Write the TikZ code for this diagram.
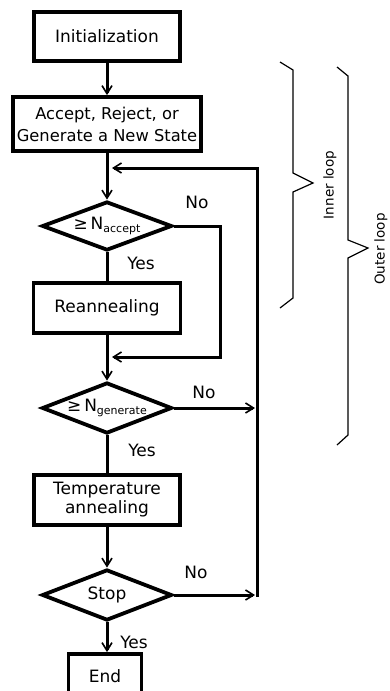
\documentclass[tikz,border=0pt]{standalone}
\usepackage{fontspec}
\setmainfont{DejaVu Sans}
\usetikzlibrary{shapes.geometric,arrows.meta}
\begin{document}
\begin{tikzpicture}[x=1pt,y=-1pt,
  box/.style={draw,line width=3.8pt,inner sep=0pt,align=center,font=\fontsize{17}{22}\selectfont},
  dec/.style={draw,diamond,line width=3.8pt,inner sep=0pt,aspect=2.5,font=\fontsize{17}{20}\selectfont},
  conn/.style={line width=3pt},
  arr/.style={conn,-{Straight Barb[length=8pt,width=10pt,line width=1.6pt]}},
  lab/.style={font=\fontsize{17}{18}\selectfont,inner sep=0pt},
  brace/.style={line width=1.2pt},
  blab/.style={font=\fontsize{13.5}{15}\selectfont,rotate=90,inner sep=0pt}]
\useasboundingbox (0,0) rectangle (390,691);
\clip (0,0) rectangle (390,691);

\node[box,minimum width=146pt,minimum height=49pt] (init) at (107,36.5) {Initialization};
\node[box,minimum width=188pt,minimum height=54pt,font=\fontsize{16.3}{22}\selectfont] (accept) at (107,124) {Accept, Reject, or\\Generate a New State};
\node[dec,minimum width=130pt,minimum height=49pt] (d1) at (107,226) {≥\,N\raisebox{-3pt}{\fontsize{11}{11}\selectfont accept}};
\node[box,minimum width=147pt,minimum height=50pt] (rean) at (107,308) {Reannealing};
\node[dec,minimum width=130pt,minimum height=51pt] (d2) at (107,408) {≥\,N\raisebox{-3pt}{\fontsize{11}{11}\selectfont generate}};
\node[box,minimum width=146pt,minimum height=50pt,font=\fontsize{17}{19}\selectfont] (temp) at (107,500) {Temperature\\annealing};
\node[dec,minimum width=130pt,minimum height=51pt] (stop) at (107,595) {Stop};
\node[box,minimum width=73pt,minimum height=44pt] (end) at (105,676) {End};

\coordinate (c1) at (220,357);
\coordinate (jA) at (112,357);
\coordinate (rb) at (257,596.5);
\coordinate (rt) at (257,168);
\coordinate (jB) at (112,168);

\draw[arr] (init) -- (accept);
\draw[arr] (accept) -- (d1);
\draw[conn] (d1) -- (rean);
\draw[arr] (rean) -- (d2);
\draw[conn] (d2) -- (temp);
\draw[arr] (temp) -- (stop);
\draw[arr] (stop.south) -- (stop.south |- end.north);

\draw[arr,line join=miter] (d1.east) -| (c1) -- (jA);
\draw[arr] (d2.east) -- (d2.east -| 255,0);
\draw[arr] (stop.east) -- (stop.east -| 255,0);
\draw[arr,line join=miter] (rb) -- (rt) -- (jB);

\node[lab] (n1) at (197,202) {No};
\node[lab] (y1) at (141,263) {Yes};
\node[lab] (n2) at (204,392) {No};
\node[lab] (y2) at (142,450) {Yes};
\node[lab] (n3) at (196,572) {No};
\node[lab] (y3) at (134,642) {Yes};

\draw[brace] (280,62) -- (293,70) -- (293,173) -- (313,183) -- (293,192) -- (293,298) -- (280,308);
\draw[brace] (337,67) -- (348,76) -- (348,240) -- (368,248) -- (348,258) -- (348,435) -- (337,445);
\node[blab] (il) at (330,185) {Inner loop};
\node[blab] (ol) at (381,249) {Outer loop};
\end{tikzpicture}
\end{document}
